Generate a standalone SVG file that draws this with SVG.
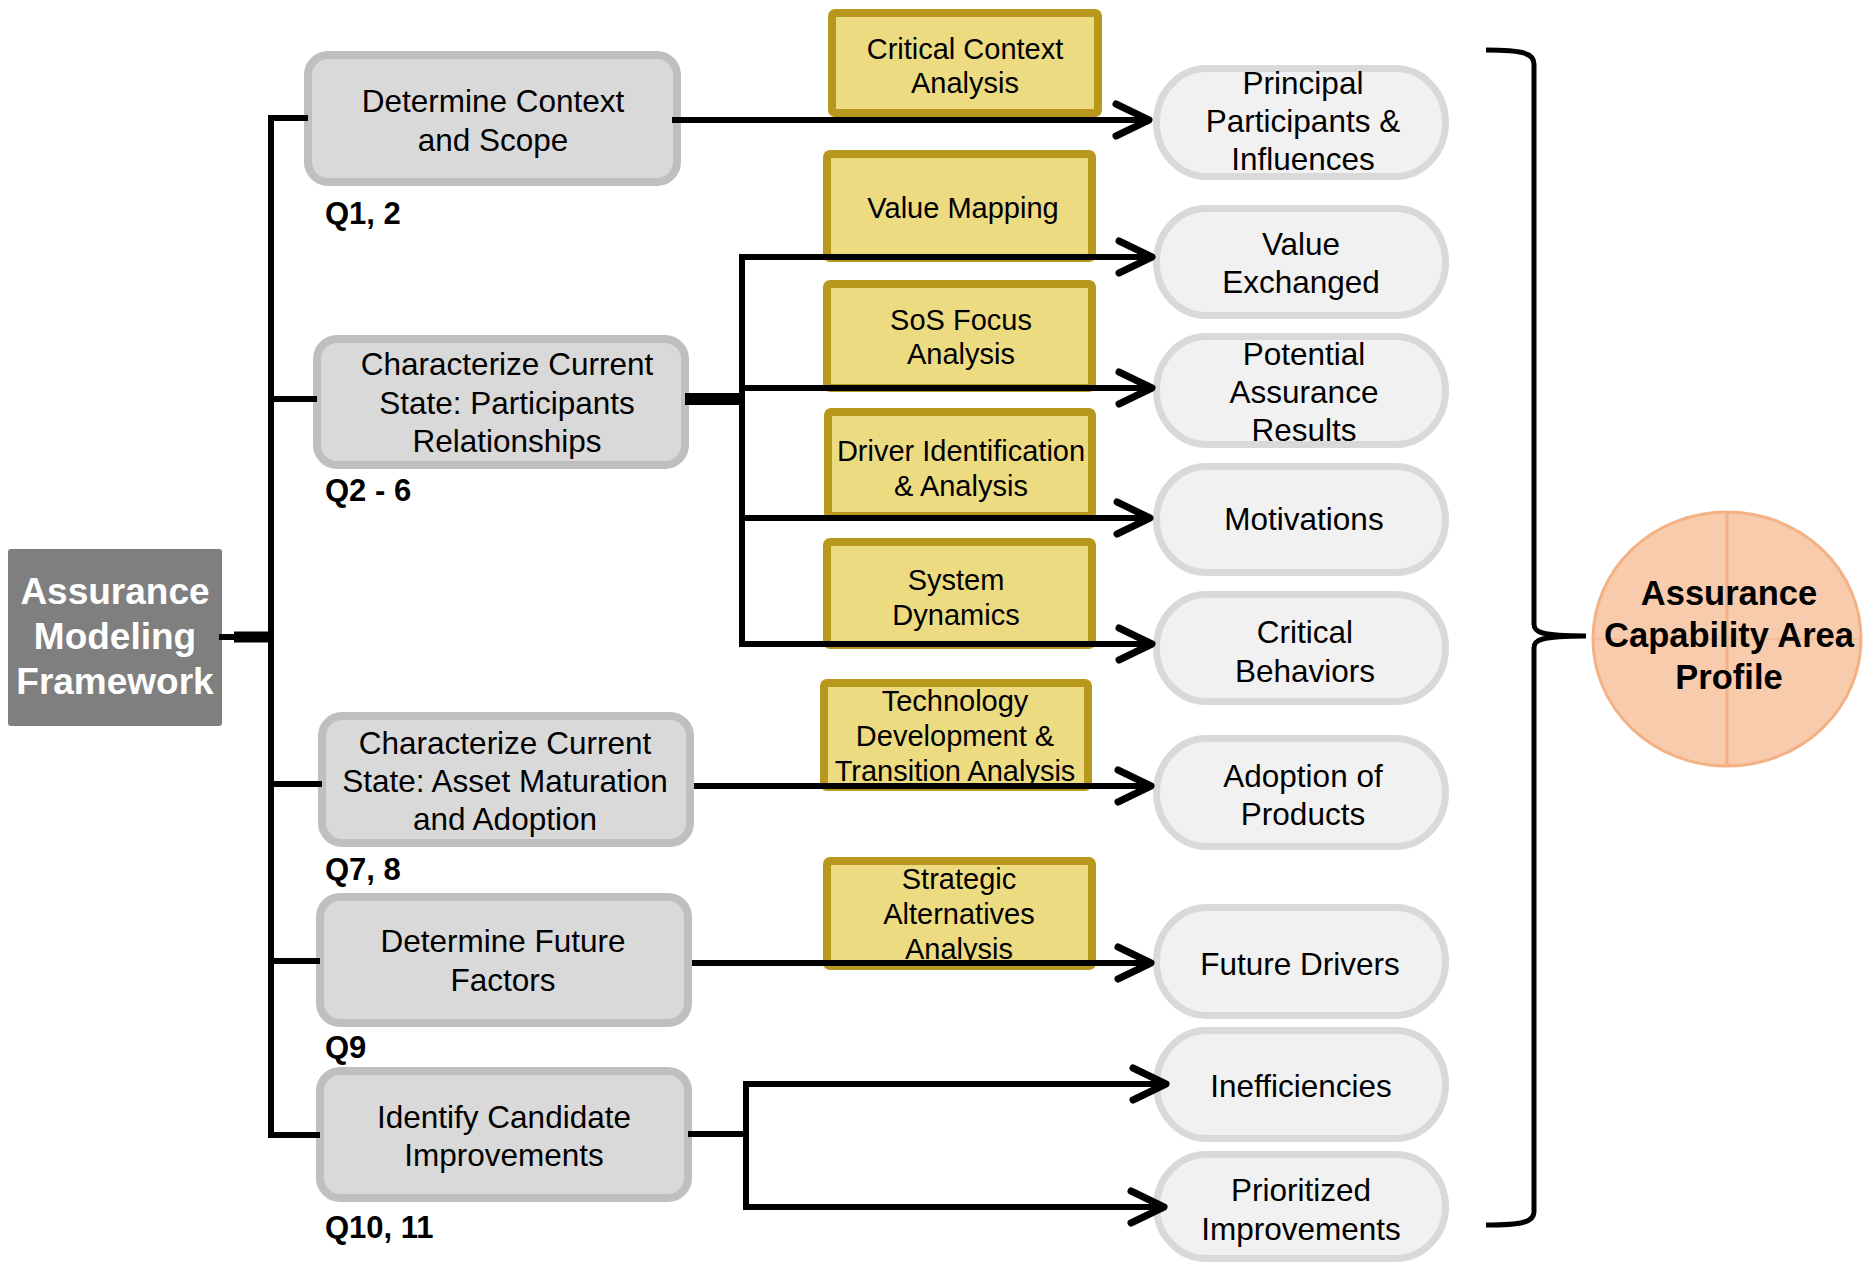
<svg xmlns="http://www.w3.org/2000/svg" width="1864" height="1264" viewBox="0 0 1864 1264">
<defs>
<style>
text{font-family:"Liberation Sans",Arial,sans-serif;text-anchor:middle;fill:#000}
.gbox{fill:#d9d9d9;stroke:#bfbfbf;stroke-width:8}
.gt{font-size:31.5px}
.ybox{fill:#ecdb80;stroke:#b8981c;stroke-width:8}
.yt{font-size:29px}
.ebox{fill:#f1f1f1;stroke:#d9d9d9;stroke-width:7}
.et{font-size:31.5px}
.q{font-size:31px;font-weight:bold;text-anchor:start}
.ln{fill:none;stroke:#000;stroke-width:6;stroke-linejoin:miter}
.ar{fill:none;stroke:#000;stroke-width:6;marker-end:url(#chev)}
.pt{font-size:34.5px;font-weight:bold}
</style>
<marker id="chev" markerUnits="userSpaceOnUse" viewBox="-40 -22 46 44" markerWidth="46" markerHeight="44" refX="0" refY="0" orient="auto">
<path d="M-33,-16 L0,0 L-33,16" fill="none" stroke="#000" stroke-width="7" stroke-linecap="round" stroke-linejoin="round"/>
</marker>
</defs>
<rect width="1864" height="1264" fill="#fff"/>

<g id="root">
<rect x="8" y="549" width="214" height="177" rx="3" fill="#7f7f7f"/>
<text x="115" y="604" font-size="37" font-weight="bold" style="fill:#fff">Assurance</text>
<text x="115" y="649" font-size="37" font-weight="bold" style="fill:#fff">Modeling</text>
<text x="115" y="694" font-size="37" font-weight="bold" style="fill:#fff">Framework</text>
</g>

<g id="yellow-boxes">
<g id="y1"><rect class="ybox" x="832" y="13" width="266" height="100" rx="3"/>
<text class="yt" x="965" y="59">Critical Context</text><text class="yt" x="965" y="93">Analysis</text></g>
<g id="y2"><rect class="ybox" x="827" y="154" width="265" height="104" rx="3"/>
<text class="yt" x="963" y="218">Value Mapping</text></g>
<g id="y3"><rect class="ybox" x="827" y="284" width="265" height="104" rx="3"/>
<text class="yt" x="961" y="330">SoS Focus</text><text class="yt" x="961" y="364">Analysis</text></g>
<g id="y4"><rect class="ybox" x="828" y="412" width="264" height="104" rx="3"/>
<text class="yt" x="961" y="461">Driver Identification</text><text class="yt" x="961" y="496">&amp; Analysis</text></g>
<g id="y5"><rect class="ybox" x="827" y="542" width="265" height="103" rx="3"/>
<text class="yt" x="956" y="590">System</text><text class="yt" x="956" y="625">Dynamics</text></g>
<g id="y6"><rect class="ybox" x="824" y="683" width="264" height="104" rx="3"/>
<text class="yt" x="955" y="711">Technology</text><text class="yt" x="955" y="746">Development &amp;</text><text class="yt" x="955" y="781">Transition Analysis</text></g>
<g id="y7"><rect class="ybox" x="827" y="861" width="265" height="105" rx="3"/>
<text class="yt" x="959" y="889">Strategic</text><text class="yt" x="959" y="924">Alternatives</text><text class="yt" x="959" y="959">Analysis</text></g>
</g>

<g id="gray-boxes">
<g id="b1"><rect class="gbox" x="308" y="55" width="369" height="127" rx="20"/>
<text class="gt" x="493" y="112">Determine Context</text><text class="gt" x="493" y="151">and Scope</text></g>
<g id="b2"><rect class="gbox" x="317" y="339" width="368" height="126" rx="20"/>
<text class="gt" x="507" y="375">Characterize Current</text><text class="gt" x="507" y="414">State: Participants</text><text class="gt" x="507" y="452">Relationships</text></g>
<g id="b3"><rect class="gbox" x="322" y="716" width="368" height="127" rx="20"/>
<text class="gt" x="505" y="754">Characterize Current</text><text class="gt" x="505" y="792">State: Asset Maturation</text><text class="gt" x="505" y="830">and Adoption</text></g>
<g id="b4"><rect class="gbox" x="320" y="897" width="368" height="126" rx="20"/>
<text class="gt" x="503" y="952">Determine Future</text><text class="gt" x="503" y="991">Factors</text></g>
<g id="b5"><rect class="gbox" x="320" y="1071" width="368" height="127" rx="20"/>
<text class="gt" x="504" y="1128">Identify Candidate</text><text class="gt" x="504" y="1166">Improvements</text></g>
</g>

<g id="q-labels">
<text class="q" x="325" y="224">Q1, 2</text>
<text class="q" x="325" y="501">Q2 - 6</text>
<text class="q" x="325" y="880">Q7, 8</text>
<text class="q" x="325" y="1058">Q9</text>
<text class="q" x="325" y="1238">Q10, 11</text>
</g>

<g id="outputs">
<g id="e1"><rect class="ebox" x="1156.5" y="68.5" width="289" height="108" rx="50" ry="54"/>
<text class="et" x="1303" y="94">Principal</text><text class="et" x="1303" y="132">Participants &amp;</text><text class="et" x="1303" y="170">Influences</text></g>
<g id="e2"><rect class="ebox" x="1156.5" y="208.5" width="289" height="107" rx="50" ry="53"/>
<text class="et" x="1301" y="255">Value</text><text class="et" x="1301" y="293">Exchanged</text></g>
<g id="e3"><rect class="ebox" x="1156.5" y="336.5" width="289" height="108" rx="50" ry="54"/>
<text class="et" x="1304" y="365">Potential</text><text class="et" x="1304" y="403">Assurance</text><text class="et" x="1304" y="441">Results</text></g>
<g id="e4"><rect class="ebox" x="1156.5" y="466.5" width="289" height="106" rx="50" ry="53"/>
<text class="et" x="1304" y="530">Motivations</text></g>
<g id="e5"><rect class="ebox" x="1156.5" y="594.5" width="289" height="107" rx="50" ry="53"/>
<text class="et" x="1305" y="643">Critical</text><text class="et" x="1305" y="682">Behaviors</text></g>
<g id="e6"><rect class="ebox" x="1156.5" y="738.5" width="289" height="108" rx="50" ry="54"/>
<text class="et" x="1303" y="787">Adoption of</text><text class="et" x="1303" y="825">Products</text></g>
<g id="e7"><rect class="ebox" x="1156.5" y="907.5" width="289" height="108" rx="50" ry="54"/>
<text class="et" x="1300" y="975">Future Drivers</text></g>
<g id="e8"><rect class="ebox" x="1156.5" y="1030.5" width="289" height="108" rx="50" ry="54"/>
<text class="et" x="1301" y="1097">Inefficiencies</text></g>
<g id="e9"><rect class="ebox" x="1156.5" y="1154.5" width="289" height="104" rx="50" ry="52"/>
<text class="et" x="1301" y="1201">Prioritized</text><text class="et" x="1301" y="1240">Improvements</text></g>
</g>

<g id="profile">
<ellipse cx="1727" cy="639" rx="134" ry="127" fill="#f8cbad" stroke="#f4b183" stroke-width="3"/>
<line x1="1727" y1="512" x2="1727" y2="766" stroke="#f4b183" stroke-width="3"/>
<line x1="1593" y1="639" x2="1861" y2="639" stroke="#f4b183" stroke-width="1.5" opacity="0.6"/>
<text class="pt" x="1729" y="605">Assurance</text>
<text class="pt" x="1729" y="647">Capability Area</text>
<text class="pt" x="1729" y="689">Profile</text>
</g>

<g id="connectors">
<line class="ln" x1="219" y1="637" x2="236" y2="637"/>
<rect x="234" y="631.5" width="40" height="11" fill="#000"/>
<path class="ln" d="M308,118 H271 V1135 H320"/>
<line class="ln" x1="271" y1="399" x2="317" y2="399"/>
<line class="ln" x1="271" y1="784" x2="322" y2="784"/>
<line class="ln" x1="271" y1="961" x2="320" y2="961"/>
<line class="ar" x1="672" y1="120" x2="1149" y2="120"/>
<rect x="685" y="393" width="60" height="12" fill="#000"/>
<path class="ln" d="M1148,257 H742 V644 H1148"/>
<line class="ar" x1="742" y1="257" x2="1152" y2="257"/>
<line class="ar" x1="742" y1="388" x2="1152" y2="388"/>
<line class="ar" x1="742" y1="518" x2="1150" y2="518"/>
<line class="ar" x1="742" y1="644" x2="1152" y2="644"/>
<line class="ar" x1="694" y1="786" x2="1151" y2="786"/>
<line class="ar" x1="692" y1="963" x2="1151" y2="963"/>
<line class="ln" x1="688" y1="1134" x2="749" y2="1134"/>
<path class="ln" d="M1160,1084 H746 V1207 H1160"/>
<line class="ar" x1="746" y1="1084" x2="1166" y2="1084"/>
<line class="ar" x1="746" y1="1207" x2="1164" y2="1207"/>
<path d="M1486,50 C1522,50 1534,53 1534,64 L1534,624 C1534,632 1540,636 1586,636 M1586,636 C1540,636 1534,640 1534,648 L1534,1212 C1534,1222 1522,1225 1486,1225" fill="none" stroke="#000" stroke-width="5"/>
</g>
</svg>
